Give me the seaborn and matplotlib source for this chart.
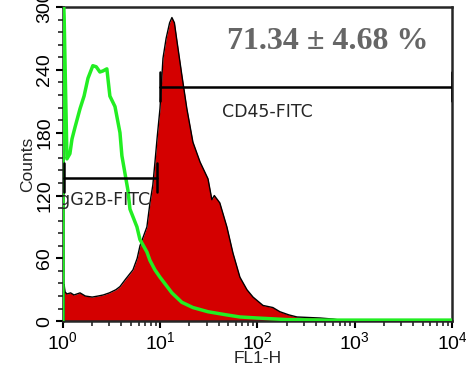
import matplotlib
matplotlib.use("Agg")
import matplotlib.pyplot as plt
import matplotlib.ticker as mticker
import seaborn as sns

# isotype control (green curve), FL1-H vs counts
iso_x = [1.0, 1.005, 1.03, 1.06, 1.10, 1.18, 1.24, 1.33, 1.50, 1.65, 1.81, 2.03, 2.2, 2.4,
         2.58, 2.83, 3.04, 3.43, 3.86, 4.04, 4.66, 4.89, 5.77, 6.19, 7.31, 7.85, 8.83, 9.95,
         13.2, 16.7, 21.7, 31.0, 48.0, 66.0, 100.0, 200.0, 500.0, 1000.0, 10000.0]
iso_y = [0, 320, 290, 230, 155, 160, 174, 185, 203, 215, 232, 244, 243, 238,
         239, 241, 215, 205, 180, 158, 125, 107, 90, 78, 66, 58, 49, 42,
         27, 18, 13, 9, 6, 4, 3, 1.5, 1, 1, 1]

# CD45-FITC stained sample (red filled histogram)
cd45_x = [1.0, 1.02, 1.03, 1.05, 1.1, 1.2, 1.3, 1.5, 1.7, 2.0, 2.3, 2.6, 3.0, 3.5, 3.86,
          4.4, 5.25, 5.8, 6.2, 7.3, 7.85, 8.4, 8.8, 9.3, 9.95, 10.68, 11.5, 12.5, 13.2,
          14.0, 14.9, 16.7, 18.8, 21.7, 25.7, 31.0, 34.0, 36.0, 41.0, 48.5, 56.0, 66.0,
          78.0, 90.0, 114.0, 144.0, 170.0, 210.0, 255.0, 440.0, 600.0, 705.0, 1000.0, 10000.0]
cd45_y = [0, 0, 35, 28, 26, 27, 25, 27, 24, 23, 24, 25, 27, 30, 33,
          40, 49, 60, 72, 90, 113, 130, 150, 175, 203, 251, 270, 285, 290,
          285, 267, 235, 203, 171, 152, 136, 116, 120, 113, 90, 65, 42,
          30, 23, 15, 13, 9, 6, 4, 3, 2, 1, 0.5, 0]

# gate markers: (x start, x end, level) and labels
iso_gate = (1.03, 9.25, 137)
cd45_gate = (9.9, 10000, 224)
iso_label = "IgG2B-FITC"
cd45_label = "CD45-FITC"
result_text = "71.34 \u00b1 4.68 %"

sns.set_style("ticks")
plt.rcParams["font.family"] = ["Liberation Sans", "DejaVu Sans"]

fig = plt.figure(figsize=(4.66, 3.73), dpi=100)
ax = fig.add_axes([0.135, 0.139, 0.835, 0.842])

ax.fill_between(cd45_x, cd45_y, color="#d40000", linewidth=0, zorder=2)
ax.plot(cd45_x, cd45_y, color="black", lw=1.0, zorder=3)
sns.lineplot(x=iso_x, y=iso_y, ax=ax, color="#22ee22", lw=2.5, estimator=None,
             sort=False, zorder=4)

# gates
for (x0, x1, lev) in [iso_gate, cd45_gate]:
    ax.plot([x0, x1], [lev, lev], color="black", lw=1.8, zorder=5)
    ax.plot([x0, x0], [lev - 14, lev + 14], color="black", lw=1.8, zorder=5)
    ax.plot([x1, x1], [lev - 14, lev + 14], color="black", lw=1.8, zorder=5)

ax.text(0.81, 116, iso_label, fontsize=12.5, ha="left", va="center", zorder=6,
        clip_on=True, family=["DejaVu Sans"])
ax.text(43, 200, cd45_label, fontsize=12.5, ha="left", va="center", zorder=6,
        family=["DejaVu Sans"])
ax.text(0.68, 0.89, result_text, transform=ax.transAxes, fontsize=23,
        fontweight="bold", color="#666666", ha="center", va="center",
        family=["Liberation Serif", "DejaVu Serif"], zorder=6)

ax.set_xscale("log")
ax.set_xlim(1, 10000)
ax.set_ylim(0, 300)
ax.set_yticks([0, 60, 120, 180, 240, 300])
ax.yaxis.set_minor_locator(mticker.MultipleLocator(12))
ax.xaxis.set_minor_locator(mticker.LogLocator(base=10, subs=range(2, 10), numticks=20))
ax.tick_params(axis="both", which="major", length=5, width=1.5, colors="black")
ax.tick_params(axis="x", which="major", labelsize=14, pad=2)
ax.tick_params(axis="y", which="major", labelsize=14, pad=2)
ax.tick_params(axis="both", which="minor", length=3.5, width=1.2)
for lab in ax.get_yticklabels():
    lab.set_rotation(90)
    lab.set_va("center")
for s in ax.spines.values():
    s.set_linewidth(1.8)
    s.set_visible(True)

ax.set_xlabel("FL1-H", fontsize=12.5, labelpad=-1)
ax.set_ylabel("Counts", fontsize=12.5, labelpad=1)

fig.savefig("out.png", dpi=100)
